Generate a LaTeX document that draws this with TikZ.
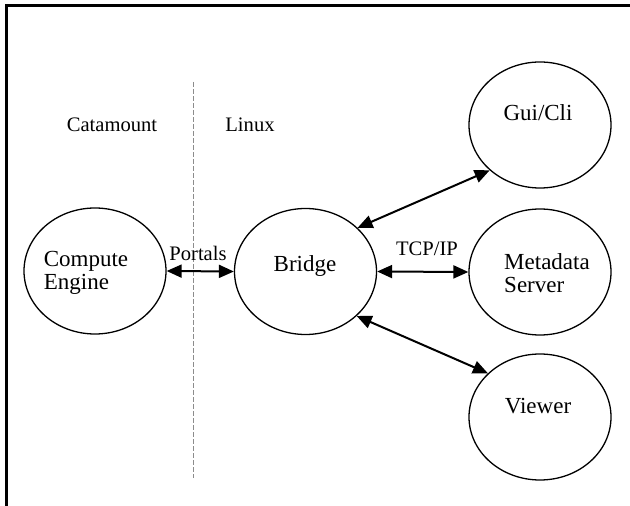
\documentclass[tikz,border=0pt]{standalone}
\usepackage{fontspec}
\setmainfont{Liberation Serif}
\usetikzlibrary{shapes.geometric,arrows.meta}
\begin{document}
\begin{tikzpicture}[x=0.5pt,y=-0.5pt,
  proc/.style={ellipse,draw,line width=0.65pt,minimum width=71pt,minimum height=63pt,inner sep=0pt},
  lbl/.style={font=\fontsize{11.5}{11.5}\selectfont,inner sep=0pt,align=left},
  side/.style={font=\fontsize{10.3}{11}\selectfont,inner sep=0pt},
  link/.style={line width=1pt,{Triangle[length=7.5pt,width=6.5pt]}-{Triangle[length=7.5pt,width=6.5pt]}},
  divider/.style={draw=black!45,line width=0.5pt,dash pattern=on 2.5pt off 1pt}]
  \useasboundingbox (0,0) rectangle (630,506);
  \fill[white] (0,0) rectangle (630,506);
  % frame (top and left edges only)
  \draw[line width=1.5pt] (6,510) -- (6,5.5) -- (632,5.5);

  % partition between the two operating systems
  \coordinate (divtop) at (193,82);
  \coordinate (divbot) at (193,478);
  \draw[divider] (divtop) -- (divbot);
  \node[side] (catamount) at (112,125) {Catamount};
  \node[side] (linux) at (250,125) {Linux};

  % processes
  \node[proc] (compute) at (95,271) {};
  \node[proc] (bridge) at (305.5,271.5) {};
  \node[proc] (gui) at (540,125) {};
  \node[proc] (meta) at (540,272) {};
  \node[proc] (viewer) at (540,417) {};

  \node[lbl] (computetxt) at (86,273) {Compute\\Engine};
  \node[lbl] (bridgetxt) at (305,266) {Bridge};
  \node[lbl] (guitxt) at (538,113) {Gui/Cli};
  \node[lbl] (metatxt) at (547,273) {Metadata\\Server};
  \node[lbl] (viewertxt) at (538,406) {Viewer};

  % connections
  \draw[link] (compute.east) -- (bridge.west);
  \draw[link] (bridge.east) -- (meta.west);
  \draw[link] (bridge.40) -- (gui.222);
  \draw[link] (bridge.-41) -- (viewer.140);

  \node[side] (portals) at (198,253) {Portals};
  \node[side] (tcpip) at (427,249) {TCP/IP};
\end{tikzpicture}
\end{document}
